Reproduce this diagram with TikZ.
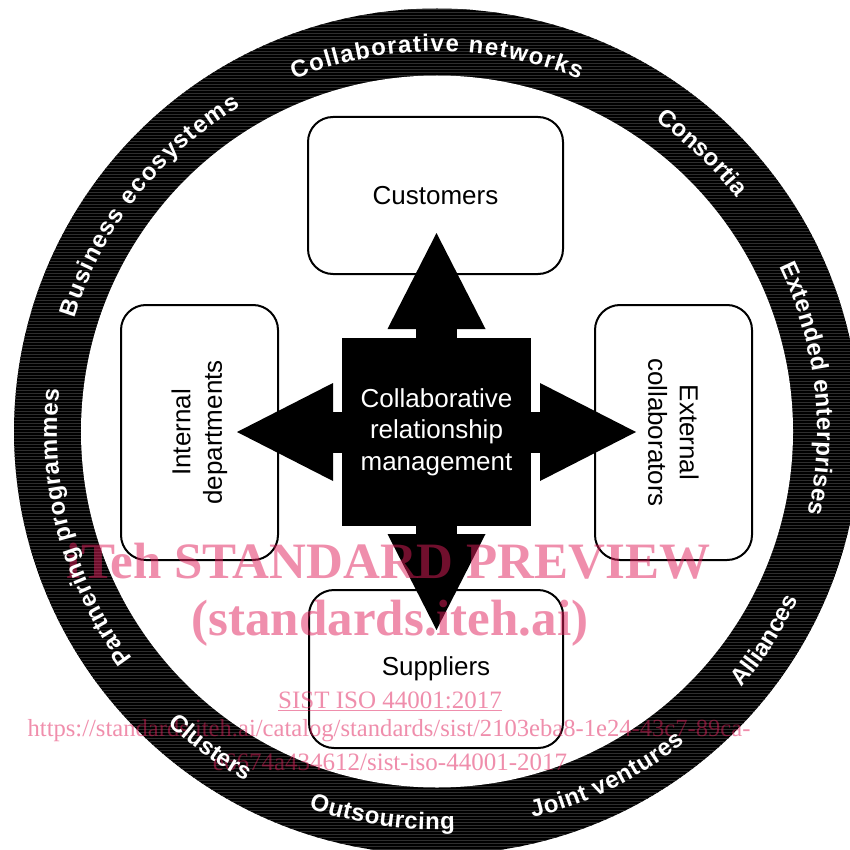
\documentclass[tikz,border=0pt]{standalone}
\usepackage{fontspec}
\setmainfont{Liberation Sans}
\newfontfamily\wmfont{Liberation Serif}
\usetikzlibrary{arrows.meta,decorations.text,patterns}

\newcommand\ringfont{\fontsize{24}{24}\selectfont\bfseries\color{white}}
\newcommand\boxfont{\fontsize{26}{31.5}\selectfont}
\definecolor{wmred}{RGB}{225,30,90}

\tikzset{
  box/.style={draw,line width=2pt,rounded corners=25pt,fill=white,inner sep=0pt,align=center,font=\boxfont},
  crm/.style={fill=black,text=white,inner sep=0pt,align=center,font=\boxfont,minimum width=189pt,minimum height=188pt},
  bigarrow/.style={line width=41pt,-{Triangle[length=96pt,width=98pt,line width=0pt]}},
  ringtext/.style={decorate,decoration={text along path,text align=fit to path}},
  wm/.style={text=wmred,text opacity=0.5,inner sep=0pt,anchor=base}
}

\begin{document}
\begin{tikzpicture}[x=1pt,y=-1pt]

\useasboundingbox (0,0) rectangle (850,850);
\clip (0,0) rectangle (850,850);

\fill[black] (437,431.5) circle[radius=423];
\fill[pattern=horizontal lines,pattern color=black!82] (437,431.5) circle[radius=423];
\fill[white] (437,431.5) circle[radius=356];

\node[box,minimum width=255pt,minimum height=157pt] (cust) at (435.5,195.5) {Customers};
\node[box,minimum width=254pt,minimum height=158pt] (supp) at (436,669) {Suppliers};
\node[box,rotate=90,minimum width=255pt,minimum height=157pt] (intdep) at (199.5,432.5) {Internal\\departments};
\node[box,rotate=-90,minimum width=255pt,minimum height=157pt] (extcol) at (673.5,432.5) {External\\collaborators};

\coordinate (hub) at (436.5,432);
\coordinate (tipup) at (436.5,233);
\coordinate (tipdown) at (436.5,630);
\coordinate (tipleft) at (237,432);
\coordinate (tipright) at (636,432);

\foreach \t in {tipup,tipdown,tipleft,tipright}
	\draw[bigarrow] (hub) -- (\t);

\node[crm] (crmbox) at (hub) {Collaborative\\relationship\\management};

\node[wm,font=\wmfont\fontsize{51}{51}\selectfont\bfseries] (wmtitle) at (388.5,578) {iTeh STANDARD PREVIEW};
\node[wm,font=\wmfont\fontsize{51}{51}\selectfont\bfseries] (wmsite) at (390,635) {(standards.iteh.ai)};
\node[wm,font=\wmfont\fontsize{25}{25}\selectfont] (wmstd) at (390,708) {\underline{SIST ISO 44001:2017}};
\node[wm,font=\wmfont\fontsize{24.6}{25}\selectfont] (wmurla) at (389,736) {https://standards.iteh.ai/catalog/standards/sist/2103eba8-1e24-43c7-89ca-};
\node[wm,font=\wmfont\fontsize{25}{25}\selectfont] (wmurlb) at (390,770) {e6674a434612/sist-iso-44001-2017};

\begin{scope}[shift={(437,431.5)},y=1pt]
\path[ringtext,decoration={text={|\ringfont|Collaborative networks}}] (112.1:380) arc[start angle=112.1,end angle=68,radius=380];
\path[ringtext,decoration={text={|\ringfont|Consortia}}] (54.9:380) arc[start angle=54.9,end angle=38.7,radius=380];
\path[ringtext,decoration={text={|\ringfont|Extended enterprises}}] (25.8:380) arc[start angle=25.8,end angle=-12.5,radius=380];
\path[ringtext,decoration={text={|\ringfont|Business ecosystems}}] (162.7:380) arc[start angle=162.7,end angle=121.1,radius=380];
\path[ringtext,decoration={text={|\ringfont|Partnering programmes}}] (216.7:380) arc[start angle=216.7,end angle=173.6,radius=380];
\path[ringtext,decoration={text={|\ringfont|Alliances}}] (-40.1:398) arc[start angle=-40.1,end angle=-25,radius=398];
\path[ringtext,decoration={text={|\ringfont|Joint ventures}}] (-76.1:398) arc[start angle=-76.1,end angle=-51.4,radius=398];
\path[ringtext,decoration={text={|\ringfont|Outsourcing}}] (-108.8:398) arc[start angle=-108.8,end angle=-87.4,radius=398];
\path[ringtext,decoration={text={|\ringfont|Clusters}}] (-132.7:398) arc[start angle=-132.7,end angle=-118.7,radius=398];
\end{scope}

\end{tikzpicture}
\end{document}
